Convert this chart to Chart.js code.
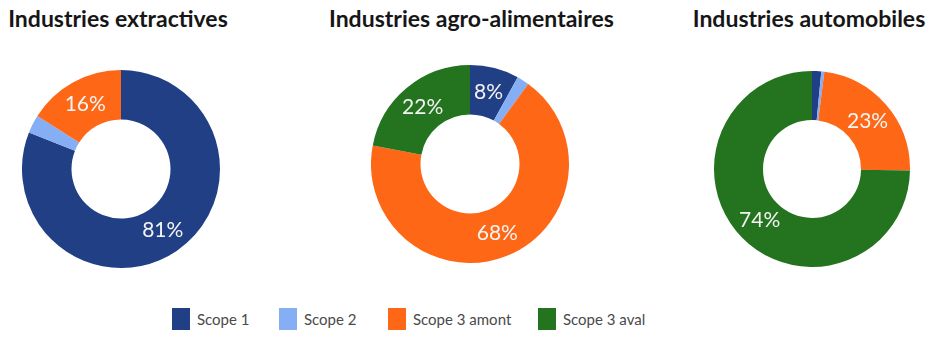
<!DOCTYPE html>
<html>
<head>
<meta charset="utf-8">
<script src="https://cdn.jsdelivr.net/npm/chart.js@4/dist/chart.umd.min.js"></script>
<style>
    body { margin: 0; background: #fff; width: 945px; height: 339px; position: relative; overflow: hidden; font-family: Lato, "Open Sans", sans-serif; }
    .title { position: absolute; top: 4px; font-weight: bold; font-size: 23px; color: #161616; text-align: center; white-space: nowrap; }
    .box { position: absolute; }
    #legend { position: absolute; top: 308px; left: 0; width: 945px; height: 22px; }
    .item { position: absolute; top: 0; height: 22px; line-height: 22px; font-size: 15px; color: #4a4a4a; }
    .item span { position: absolute; left: 0; top: 0; width: 18px; height: 22px; }
    .item b { font-weight: normal; position: absolute; left: 25px; top: 0; white-space: nowrap; }
</style>
</head>
<body>
<div class="title" style="left:-2px;width:240px;">Industries extractives</div>
<div class="title" style="left:329px;width:280px;">Industries agro-alimentaires</div>
<div class="title" style="left:689px;width:240px;">Industries automobiles</div>

<div class="box" style="left:22px;top:70px;"><canvas id="c1" width="198" height="198"></canvas></div>
<div class="box" style="left:371px;top:65px;"><canvas id="c2" width="198" height="198"></canvas></div>
<div class="box" style="left:714px;top:71px;"><canvas id="c3" width="196" height="196"></canvas></div>

<div id="legend"></div>

<script>
// data
const scopes = ['Scope 1', 'Scope 2', 'Scope 3 amont', 'Scope 3 aval'];
const colors = ['#213f84', '#86aef5', '#fd6716', '#23731f'];

const extractives = [81, 3, 16, 0];
const agroAlimentaires = [8, 2, 68, 22];
const automobiles = [1.5, 0.5, 23, 74];

// labels in the middle of big slices
const sliceLabels = {
    id: 'sliceLabels',
    afterDatasetsDraw(chart) {
        const ctx = chart.ctx;
        const values = chart.data.datasets[0].data;
        chart.getDatasetMeta(0).data.forEach(function (arc, i) {
            if (values[i] < 5) return;
            const pos = arc.tooltipPosition();
            ctx.save();
            ctx.fillStyle = '#f4f4f4';
            ctx.font = '21px Lato, "Open Sans", sans-serif';
            ctx.textAlign = 'center';
            ctx.textBaseline = 'middle';
            ctx.fillText(Math.round(values[i]) + '%', pos.x, pos.y);
            ctx.restore();
        });
    }
};

function showDonut(id, data) {
    const ctx = document.getElementById(id);
    return new Chart(ctx, {
        type: 'doughnut',
        data: {
            labels: scopes,
            datasets: [{
                data: data,
                backgroundColor: colors,
                borderWidth: 0
            }]
        },
        options: {
            responsive: false,
            animation: false,
            cutout: '50%',
            layout: { padding: 0 },
            plugins: {
                legend: { display: false },
                tooltip: { enabled: false }
            }
        },
        plugins: [sliceLabels]
    });
}

showDonut('c1', extractives);
showDonut('c2', agroAlimentaires);
showDonut('c3', automobiles);

// shared legend
const legendX = [172, 279, 388, 538];
const legend = document.getElementById('legend');
scopes.forEach(function (s, i) {
    const d = document.createElement('div');
    d.className = 'item';
    d.style.left = legendX[i] + 'px';
    d.innerHTML = '<span style="background:' + colors[i] + '"></span><b>' + s + '</b>';
    legend.appendChild(d);
});
</script>
</body>
</html>
